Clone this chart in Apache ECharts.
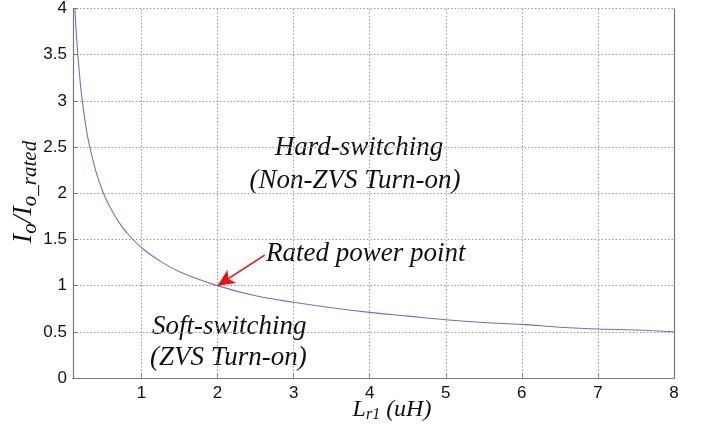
<!DOCTYPE html>
<html>
<head>
<meta charset="utf-8">
<script src="https://cdn.jsdelivr.net/npm/echarts@6/dist/echarts.min.js"></script>
<style>
  html, body { margin: 0; padding: 0; background: #fff; }
  #chart { width: 711px; height: 432px; }
</style>
</head>
<body>
<div id="chart"></div>
<script>
// Inductance Lr1 (uH) and the normalised load current boundary Io/Io_rated
const inductance = [0.125, 0.15, 0.2, 0.25, 0.3, 0.4, 0.5, 0.6, 0.7, 0.8, 1.0, 1.2, 1.5, 2.0, 2.5, 3.0, 3.5, 4.0, 4.5, 5.0, 5.5, 6.0, 6.5, 7.0, 7.5, 8.0];
const currentRatio = [4.0, 3.65, 3.16, 2.83, 2.58, 2.24, 2.0, 1.83, 1.69, 1.58, 1.41, 1.29, 1.15, 1.0, 0.89, 0.82, 0.76, 0.71, 0.67, 0.63, 0.60, 0.58, 0.55, 0.53, 0.52, 0.50];
const xTicks = [1, 2, 3, 4, 5, 6, 7, 8];
const yTicks = [0, 0.5, 1, 1.5, 2, 2.5, 3, 3.5, 4];
const ratedPoint = [2, 1];
const arrowTail = [2.62, 1.33];

const serif = '"Liberation Serif", "Times New Roman", serif';
const sans = '"Liberation Sans", Arial, sans-serif';

const chart = echarts.init(document.getElementById('chart'), null, { renderer: 'canvas' });

const gridLine = { show: true, lineStyle: { color: '#999', type: [1.5, 2], width: 1 } };
const frameLine = { show: true, lineStyle: { color: '#777', width: 1.2 } };
const note = (text, x, y, align) => ({
  type: 'text', x: x, y: y,
  style: { text: text, font: 'italic 27px ' + serif, fill: '#111', align: align, verticalAlign: 'middle' }
});

chart.setOption({
  animation: false,
  backgroundColor: '#fff',
  grid: { left: 73, right: 37, top: 7, bottom: 54 },
  xAxis: [{
    type: 'value', min: 0.1, max: 8,
    axisLine: frameLine,
    axisTick: { show: true, inside: true, length: 5, lineStyle: { color: '#777' }, customValues: xTicks },
    axisLabel: { customValues: xTicks, color: '#111', fontFamily: sans, fontSize: 17, margin: 7 },
    splitLine: { show: false }
  }, {
    type: 'value', min: 0.1, max: 8, position: 'top',
    axisLine: frameLine, axisTick: { show: false }, axisLabel: { show: false }, splitLine: { show: false }
  }],
  yAxis: [{
    type: 'value', min: 0, max: 4, interval: 0.5,
    axisLine: frameLine,
    axisTick: { show: true, inside: true, length: 5, lineStyle: { color: '#777' } },
    axisLabel: { color: '#111', fontFamily: sans, fontSize: 17, margin: 6 },
    splitLine: gridLine
  }, {
    type: 'value', min: 0, max: 4, position: 'right',
    axisLine: frameLine, axisTick: { show: false }, axisLabel: { show: false }, splitLine: { show: false }
  }],
  series: [{
    type: 'line',
    data: inductance.map((x, i) => [x, currentRatio[i]]),
    smooth: 0.4,
    symbol: 'none',
    lineStyle: { color: '#6f6fd0', width: 1.1 },
    markLine: {
      silent: true,
      symbol: ['none', 'arrow'],
      symbolSize: [12, 17],
      label: { show: false },
      lineStyle: { color: '#ee1111', width: 1.6, type: 'solid' },
      data: [[{ coord: arrowTail }, { coord: ratedPoint }]]
    }
  }, {
    // vertical dotted grid at the x tick positions
    type: 'line', data: [], markLine: {
      silent: true, symbol: 'none', label: { show: false },
      lineStyle: { color: '#999', type: [1.5, 2], width: 1 },
      data: xTicks.slice(0, -1).map(v => ({ xAxis: v }))
    }
  }],
  graphic: [
    note('Hard-switching', 359, 148, 'center'),
    note('(Non-ZVS Turn-on)', 355, 181, 'center'),
    note('Rated power point', 266, 254, 'left'),
    note('Soft-switching', 152, 327, 'left'),
    note('(ZVS Turn-on)', 150, 358, 'left'),
    {
      type: 'text', x: 24, y: 192, rotation: Math.PI / 2,
      style: {
        text: '{m|I}{s|o}{m|/I}{s|o_rated}',
        align: 'center', verticalAlign: 'middle',
        rich: {
          m: { font: 'italic 28px ' + serif, fill: '#111', lineHeight: 34 },
          s: { font: 'italic 21px ' + serif, fill: '#111', lineHeight: 34, padding: [12, 0, 0, 0] }
        }
      }
    },
    {
      type: 'text', x: 392, y: 410,
      style: {
        text: '{m|L}{s|r1}{m| (uH)}',
        align: 'center', verticalAlign: 'middle',
        rich: {
          m: { font: 'italic 24px ' + serif, fill: '#111', lineHeight: 30 },
          s: { font: 'italic 16px ' + serif, fill: '#111', lineHeight: 30, padding: [10, 0, 0, 0] }
        }
      }
    }
  ]
});
</script>
</body>
</html>
